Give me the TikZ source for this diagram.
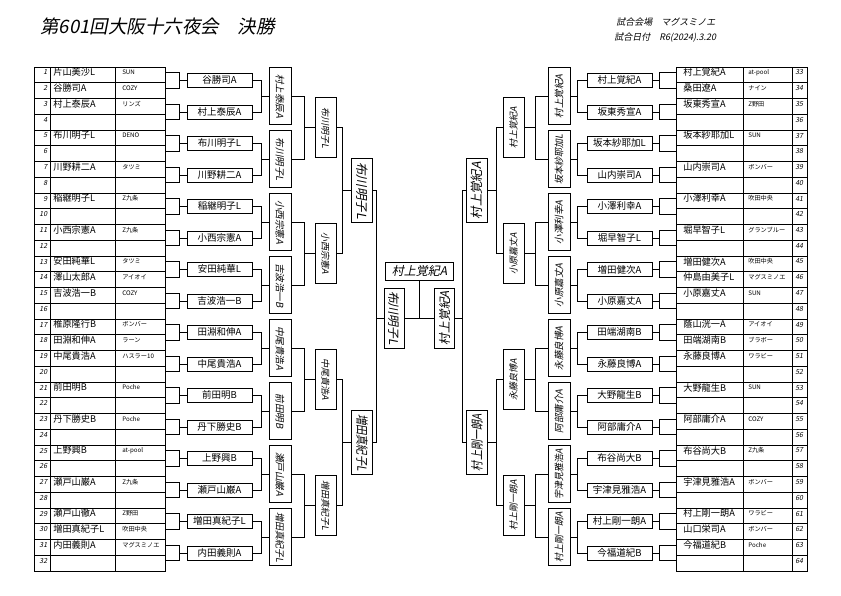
\documentclass[tikz,border=0pt]{standalone}
\usepackage{fontspec}
\usepackage{graphicx}
\setmainfont{Liberation Serif}
\newfontfamily\jp{Noto Sans CJK JP}
\newfontfamily\jpsl[FakeSlant=0.2]{Noto Sans CJK JP}

\newsavebox\fitbx
\newcommand\fitw[2]{\sbox\fitbx{#2}\ifdim\wd\fitbx>#1\relax\resizebox{#1}{\ht\fitbx}{\usebox\fitbx}\else\usebox\fitbx\fi}
\newcommand\vt[3]{\rotatebox{#1}{\fitw{#2}{#3}}}

\tikzset{
  every node/.style={inner sep=0pt},
  rowtxt/.style={anchor=west, font=\jp\fontsize{9.2}{10}\selectfont},
  clubtxt/.style={anchor=west, font=\jp\fontsize{6.2}{7}\selectfont},
  numtxt/.style={font=\jpsl\fontsize{7}{8}\selectfont},
  r1box/.style={draw, fill=white, minimum width=65pt, minimum height=14pt, font=\jp\fontsize{9.5}{10}\selectfont},
  r2box/.style={draw, minimum width=22pt, minimum height=57pt, font=\jpsl\fontsize{9.5}{10}\selectfont},
  qfbox/.style={draw, minimum width=21pt, minimum height=60pt, font=\jpsl\fontsize{9}{10}\selectfont},
  sfbox/.style={draw, minimum width=21pt, minimum height=64pt, font=\jpsl\fontsize{12.5}{13}\selectfont},
  fnbox/.style={draw, minimum width=20pt, minimum height=60pt, font=\jpsl\fontsize{12}{13}\selectfont},
  chbox/.style={draw, minimum width=68pt, minimum height=18pt, font=\jpsl\fontsize{12}{13}\selectfont},
}

\begin{document}
\begin{tikzpicture}[x=1pt, y=-1pt, line width=0.6pt]
\fill[white] (0,0) rectangle (841,595);
\useasboundingbox (0,0) rectangle (841,595);

\node[anchor=west, font=\jpsl\fontsize{18.5}{20}\selectfont] (title) at (40,26) {第601回大阪十六夜会　決勝};
\node[anchor=west, font=\jpsl\fontsize{9}{10}\selectfont] (venue) at (616,22) {試合会場　マグスミノエ};
\node[anchor=west, font=\jpsl\fontsize{9}{10}\selectfont] (date) at (614,38) {試合日付　R6(2024).3.20};

% left table
\draw (34,67) rectangle (165,571);
\draw (50,67) -- (50,571) (115,67) -- (115,571);
\foreach \i in {1,...,31} \draw (34,{67+\i*15.75}) -- (165,{67+\i*15.75});
\foreach \nm/\cl [count=\i] in {片山美沙L/SUN, 谷勝司A/COZY, 村上泰辰A/リンズ, {}/{},
  布川明子L/DENO, {}/{}, 川野耕二A/タツミ, {}/{}, 稲継明子L/Z九条, {}/{}, 小西宗憲A/Z九条, {}/{},
  安田純華L/タツミ, 澤山太郎A/アイオイ, 吉波浩一B/COZY, {}/{}, 椎原隆行B/ボンバー, 田淵和伸A/ラーン,
  中尾貴浩A/ハスラー10, {}/{}, 前田明B/Poche, {}/{}, 丹下勝史B/Poche, {}/{}, 上野興B/at-pool, {}/{},
  瀬戸山巌A/Z九条, {}/{}, 瀬戸山徹A/Z野田, 増田真紀子L/吹田中央, 内田義則A/マグスミノエ, {}/{}}{
  \pgfmathsetmacro\y{72.5+(\i-1)*15.75}
  \node[numtxt, anchor=east] (Ln\i) at (47.5,\y) {\i};
  \node[rowtxt] (Lp\i) at (53,\y) {\nm};
  \node[clubtxt] (Lk\i) at (122,\y) {\cl};
  \coordinate (Lr\i) at (165,\y);
}

% right table
\draw (676,67) rectangle (807,571);
\draw (743,67) -- (743,571) (792,67) -- (792,571);
\foreach \i in {1,...,31} \draw (676,{67+\i*15.75}) -- (807,{67+\i*15.75});
\foreach \nm/\cl [count=\i] in {村上覚紀A/at-pool, 桑田遼A/ナイン, 坂東秀宣A/Z野田, {}/{},
  坂本紗耶加L/SUN, {}/{}, 山内崇司A/ボンバー, {}/{}, 小澤利幸A/吹田中央, {}/{}, 堀早智子L/グランブルー, {}/{},
  増田健次A/吹田中央, 仲島由美子L/マグスミノエ, 小原嘉丈A/SUN, {}/{}, 蔭山洸一A/アイオイ, 田端湖南B/ブラボー,
  永藤良博A/ワラビー, {}/{}, 大野龍生B/SUN, {}/{}, 阿部庸介A/COZY, {}/{}, 布谷尚大B/Z九条, {}/{},
  宇津見雅浩A/ボンバー, {}/{}, 村上剛一朗A/ワラビー, 山口栄司A/ボンバー, 今福道紀B/Poche, {}/{}}{
  \pgfmathsetmacro\y{72.5+(\i-1)*15.75}
  \pgfmathtruncatemacro\j{\i+32}
  \node[numtxt, anchor=west] (Rn\i) at (795,\y) {\j};
  \node[rowtxt] (Rp\i) at (683,\y) {\nm};
  \node[clubtxt] (Rk\i) at (748,\y) {\cl};
  \coordinate (Rr\i) at (676,\y);
}

% bracket boxes
\foreach \nm [count=\k] in {谷勝司A,村上泰辰A,布川明子L,川野耕二A,稲継明子L,小西宗憲A,安田純華L,吉波浩一B,
  田淵和伸A,中尾貴浩A,前田明B,丹下勝史B,上野興B,瀬戸山巌A,増田真紀子L,内田義則A}
  \node[r1box] (La\k) at (219.5,{80.375+(\k-1)*31.5}) {\nm};
\foreach \nm [count=\k] in {村上覚紀A,坂東秀宣A,坂本紗耶加L,山内崇司A,小澤利幸A,堀早智子L,増田健次A,小原嘉丈A,
  田端湖南B,永藤良博A,大野龍生B,阿部庸介A,布谷尚大B,宇津見雅浩A,村上剛一朗A,今福道紀B}
  \node[r1box] (Ra\k) at (619.5,{80.375+(\k-1)*31.5}) {\nm};
\foreach \nm [count=\m] in {村上泰辰A,布川明子L,小西宗憲A,吉波浩一B,中尾貴浩A,前田明B,瀬戸山巌A,増田真紀子L}
  \node[r2box] (Lb\m) at (280,{96.125+(\m-1)*63}) {\vt{-90}{50pt}{\nm}};
\foreach \nm [count=\m] in {村上覚紀A,坂本紗耶加L,小澤利幸A,小原嘉丈A,永藤良博A,阿部庸介A,宇津見雅浩A,村上剛一朗A}
  \node[r2box] (Rb\m) at (559,{96.125+(\m-1)*63}) {\vt{90}{50pt}{\nm}};
\foreach \nm [count=\n] in {布川明子L,小西宗憲A,中尾貴浩A,増田真紀子L}
  \node[qfbox] (Lc\n) at (325.5,{127.625+(\n-1)*126}) {\vt{-90}{52pt}{\nm}};
\foreach \nm [count=\n] in {村上覚紀A,小原嘉丈A,永藤良博A,村上剛一朗A}
  \node[qfbox] (Rc\n) at (513.5,{127.625+(\n-1)*126}) {\vt{90}{52pt}{\nm}};
\foreach \nm [count=\p] in {布川明子L,増田真紀子L}
  \node[sfbox] (Ld\p) at (362,{190.625+(\p-1)*252}) {\vt{-90}{57pt}{\nm}};
\foreach \nm [count=\p] in {村上覚紀A,村上剛一朗A}
  \node[sfbox] (Rd\p) at (477,{190.625+(\p-1)*252}) {\vt{90}{57pt}{\nm}};
\node[fnbox] (Lf) at (394.5,318) {\vt{-90}{54pt}{布川明子L}};
\node[fnbox] (Rf) at (444.5,318) {\vt{90}{54pt}{村上覚紀A}};
\node[chbox] (champ) at (419.5,271) {\fitw{62pt}{村上覚紀A}};

% connectors
\foreach \sd/\sg/\ow/\iw in {L/-1/west/east, R/1/east/west}{
  \foreach \k in {1,...,16}{
    \pgfmathtruncatemacro\a{2*\k-1}
    \pgfmathtruncatemacro\b{2*\k}
    \draw (\sd r\a) -| ([xshift={\sg*7pt}]\sd a\k.\ow) |- (\sd r\b);
    \draw ([xshift={\sg*7pt}]\sd a\k.\ow) -- (\sd a\k.\ow);
  }
  \foreach \m in {1,...,8}{
    \pgfmathtruncatemacro\a{2*\m-1}
    \pgfmathtruncatemacro\b{2*\m}
    \draw (\sd a\a.\iw) -| ([xshift={\sg*7pt}]\sd b\m.\ow) |- (\sd a\b.\iw);
    \draw ([xshift={\sg*7pt}]\sd b\m.\ow) -- (\sd b\m.\ow);
  }
  \foreach \n in {1,...,4}{
    \pgfmathtruncatemacro\a{2*\n-1}
    \pgfmathtruncatemacro\b{2*\n}
    \draw (\sd b\a.\iw) -| ([xshift={\sg*10.5pt}]\sd c\n.\ow) |- (\sd b\b.\iw);
    \draw ([xshift={\sg*10.5pt}]\sd c\n.\ow) -- (\sd c\n.\ow);
  }
  \foreach \p in {1,2}{
    \pgfmathtruncatemacro\a{2*\p-1}
    \pgfmathtruncatemacro\b{2*\p}
    \draw (\sd c\a.\iw) -| ([xshift={\sg*8.5pt}]\sd d\p.\ow) |- (\sd c\b.\iw);
    \draw ([xshift={\sg*8.5pt}]\sd d\p.\ow) -- (\sd d\p.\ow);
  }
  \draw (\sd d1.\iw) -| ([xshift={\sg*7.5pt}]\sd f.\ow) |- (\sd d2.\iw);
  \draw ([xshift={\sg*7.5pt}]\sd f.\ow) -- (\sd f.\ow);
}
\draw (Lf.east) -- (Rf.west);
\draw (champ.south) -- (champ.south |- Lf.east);
\end{tikzpicture}
\end{document}
